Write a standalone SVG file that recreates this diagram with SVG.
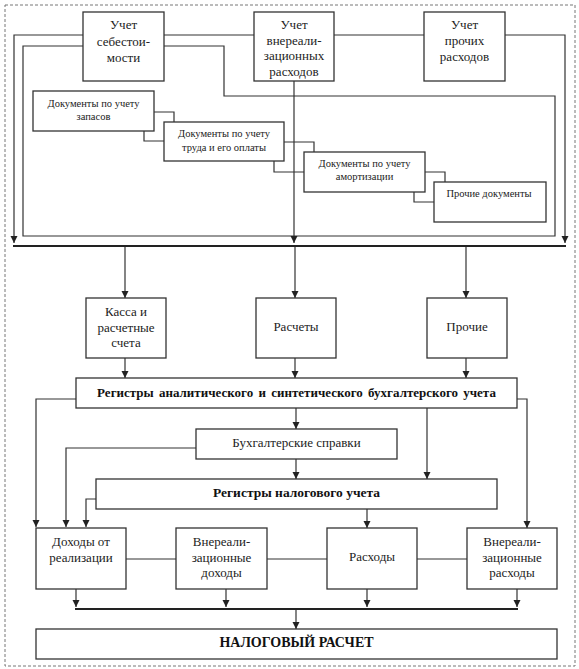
<svg xmlns="http://www.w3.org/2000/svg" width="579" height="669" viewBox="0 0 579 669">
<defs>
<marker id="ah" markerUnits="userSpaceOnUse" markerWidth="8" markerHeight="8" refX="7" refY="3.5" orient="auto">
<path d="M0,0 L7,3.5 L0,7 z" fill="#222"/>
</marker>
<style>
.box{fill:#fff;stroke:#333;stroke-width:1.3}
.ln{fill:none;stroke:#333;stroke-width:1.2}
.thick{fill:none;stroke:#222;stroke-width:2.2}
.ar{fill:none;stroke:#333;stroke-width:1.2;marker-end:url(#ah)}
.t{font-family:"Liberation Serif","Times New Roman","DejaVu Serif",serif;font-size:13px;fill:#222;text-anchor:middle}
.s{font-family:"Liberation Serif","Times New Roman","DejaVu Serif",serif;font-size:10.5px;fill:#222;text-anchor:middle}
.b{font-family:"Liberation Serif","Times New Roman","DejaVu Serif",serif;font-size:13px;font-weight:bold;fill:#111;text-anchor:middle}
.bb{font-family:"Liberation Serif","Times New Roman","DejaVu Serif",serif;font-size:14px;font-weight:bold;fill:#111;text-anchor:middle}
</style>
</defs>
<rect x="0" y="0" width="579" height="669" fill="#fff"/>
<rect x="5" y="5" width="570" height="661" fill="none" stroke="#777" stroke-width="1" stroke-dasharray="3,2"/>

<g id="connectors">
<path class="ln" d="M83,35 H14 V236"/>
<path class="ar" d="M14,236 V243"/>
<path class="ln" d="M164,35 H254 M334,35 H424 M505,35 H565 V236"/>
<path class="ar" d="M565,236 V243"/>
<path class="ln" d="M83,46 H23 V236 H555 V96 H224 V46 H164"/>
<path class="ar" d="M294,81 V243"/>
<path class="thick" d="M13,246 H566"/>
<path class="ln" d="M154,112 H174 V122 M144,131 V141 H164"/>
<path class="ln" d="M284,142 H314 V152 M274,161 V172 H304"/>
<path class="ln" d="M425,172 H445 V182 M414,192 V202 H434"/>
<path class="ar" d="M125,247 V298"/>
<path class="ar" d="M295,247 V298"/>
<path class="ar" d="M466,247 V298"/>
<path class="ar" d="M125,358 V378"/>
<path class="ar" d="M295,358 V378"/>
<path class="ar" d="M466,358 V378"/>
<path class="ar" d="M76,399 H36 V527"/>
<path class="ar" d="M517,399 H527 V528"/>
<path class="ar" d="M296,408 V429"/>
<path class="ar" d="M427,408 V479"/>
<path class="ar" d="M196,448 H66 V527"/>
<path class="ar" d="M296,459 V479"/>
<path class="ar" d="M96,499 H86 V527"/>
<path class="ar" d="M367,509 V528"/>
<path class="ln" d="M126,559 H176 M267,559 H327 M417,559 H467"/>
<path class="ar" d="M76,589 V607"/>
<path class="ar" d="M226,589 V607"/>
<path class="ar" d="M367,589 V607"/>
<path class="ar" d="M517,589 V607"/>
<path class="thick" d="M75,609 H518"/>
<path class="ar" d="M296,610 V629"/>
</g>

<g id="n1"><rect class="box" x="83" y="12" width="81" height="69"/>
<text class="t" x="123.5" y="29">Учет</text><text class="t" x="123.5" y="46">себестои-</text><text class="t" x="123.5" y="62">мости</text></g>
<g id="n2"><rect class="box" x="254" y="12" width="80" height="69"/>
<text class="t" x="294" y="29">Учет</text><text class="t" x="294" y="44.5">внереали-</text><text class="t" x="294" y="60">зационных</text><text class="t" x="294" y="75.5">расходов</text></g>
<g id="n3"><rect class="box" x="424" y="12" width="81" height="69"/>
<text class="t" x="464.5" y="29">Учет</text><text class="t" x="464.5" y="45">прочих</text><text class="t" x="464.5" y="61">расходов</text></g>

<g id="d1"><rect class="box" x="33" y="91" width="121" height="40"/>
<text class="s" x="93.5" y="106.5">Документы по учету</text><text class="s" x="93.5" y="119.5">запасов</text></g>
<g id="d2"><rect class="box" x="164" y="122" width="120" height="39"/>
<text class="s" x="224" y="136.5">Документы по учету</text><text class="s" x="224" y="150.5">труда и его оплаты</text></g>
<g id="d3"><rect class="box" x="304" y="152" width="121" height="40"/>
<text class="s" x="364.5" y="166.5">Документы по учету</text><text class="s" x="364.5" y="179.5">амортизации</text></g>
<g id="d4"><rect class="box" x="434" y="182" width="112" height="40"/>
<text class="s" x="489" y="196.5">Прочие документы</text></g>

<g id="m1"><rect class="box" x="86" y="298" width="80" height="60"/>
<text class="t" x="126" y="316">Касса и</text><text class="t" x="126" y="332">расчетные</text><text class="t" x="126" y="347">счета</text></g>
<g id="m2"><rect class="box" x="256" y="298" width="80" height="60"/>
<text class="t" x="296" y="331">Расчеты</text></g>
<g id="m3"><rect class="box" x="427" y="298" width="80" height="60"/>
<text class="t" x="467" y="331">Прочие</text></g>

<g id="reg1"><rect class="box" x="76" y="378" width="441" height="30"/>
<text class="b" x="296.5" y="397" word-spacing="2">Регистры аналитического и синтетического бухгалтерского учета</text></g>
<g id="spr"><rect class="box" x="196" y="429" width="201" height="30"/>
<text class="t" x="296.5" y="446.5">Бухгалтерские справки</text></g>
<g id="reg2"><rect class="box" x="96" y="479" width="401" height="30"/>
<text class="b" x="296.5" y="496.5" style="font-size:13.5px">Регистры налогового учета</text></g>

<g id="b1"><rect class="box" x="36" y="528" width="90" height="61"/>
<text class="t" x="81" y="546">Доходы от</text><text class="t" x="81" y="562">реализации</text></g>
<g id="b2"><rect class="box" x="176" y="528" width="91" height="61"/>
<text class="t" x="221.5" y="546">Внереали-</text><text class="t" x="221.5" y="562">зационные</text><text class="t" x="221.5" y="577">доходы</text></g>
<g id="b3"><rect class="box" x="327" y="528" width="90" height="61"/>
<text class="t" x="372" y="561">Расходы</text></g>
<g id="b4"><rect class="box" x="467" y="528" width="90" height="61"/>
<text class="t" x="512" y="546">Внереали-</text><text class="t" x="512" y="562">зационные</text><text class="t" x="512" y="577">расходы</text></g>

<g id="final"><rect class="box" x="36" y="629" width="521" height="30"/>
<text class="bb" x="296.5" y="647">НАЛОГОВЫЙ РАСЧЕТ</text></g>
</svg>
